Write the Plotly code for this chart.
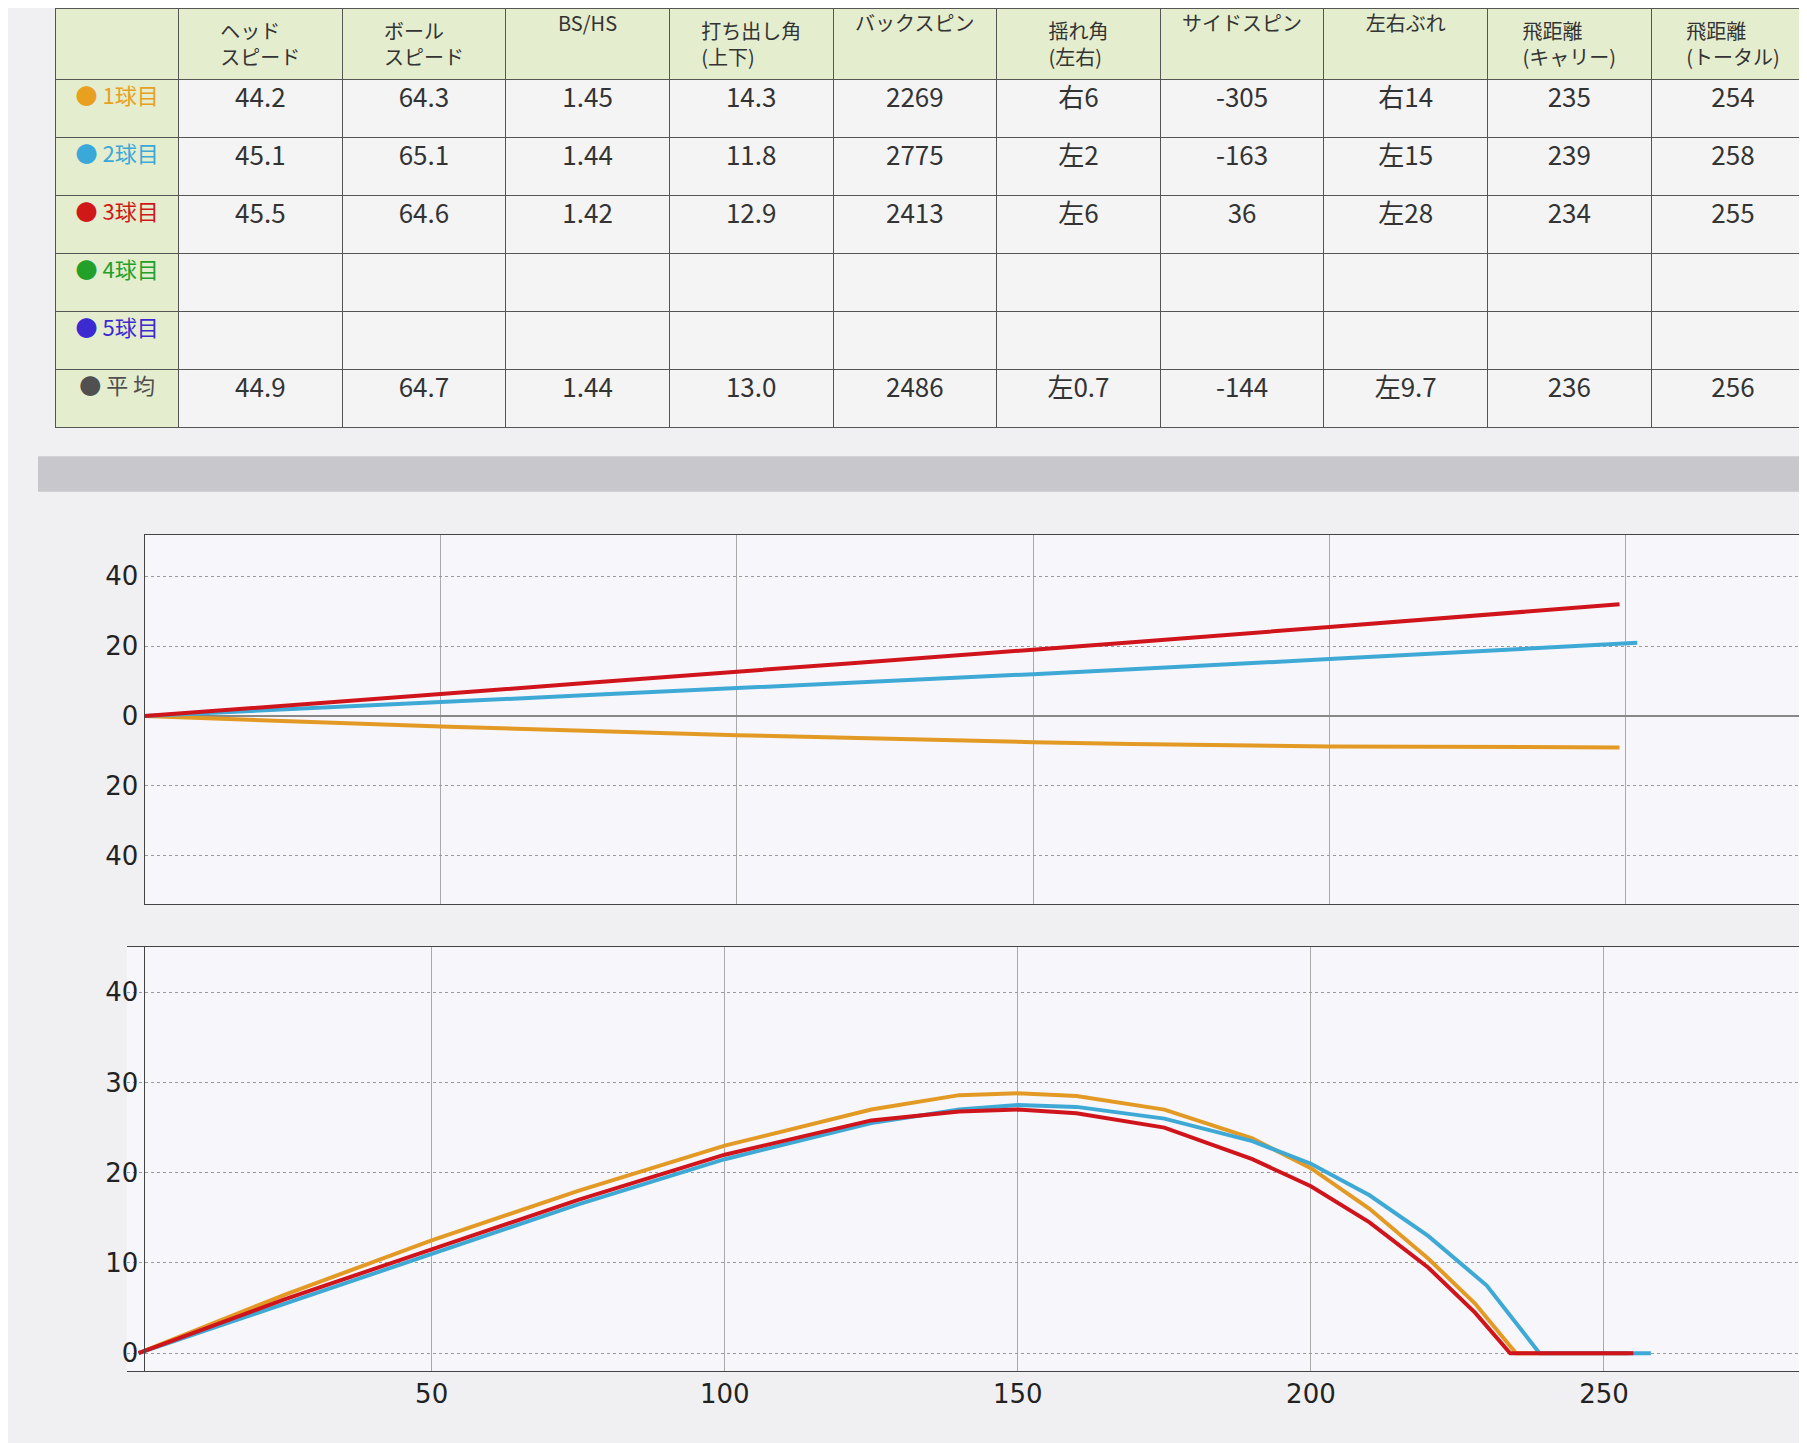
import plotly.graph_objects as go

headers = ["", "ヘッド<br>スピード", "ボール<br>スピード", "BS/HS", "打ち出し角<br>(上下)", "バックスピン",
           "揺れ角<br>(左右)", "サイドスピン", "左右ぶれ", "飛距離<br>(キャリー)", "飛距離<br>(トータル)"]
row_labels = ["1球目", "2球目", "3球目", "4球目", "5球目", "平 均"]
row_colors = ["#e8a020", "#3aa8d8", "#d01818", "#22a02a", "#3a2ad0", "#505050"]
head_speed = ["44.2", "45.1", "45.5", "", "", "44.9"]
ball_speed = ["64.3", "65.1", "64.6", "", "", "64.7"]
bs_hs = ["1.45", "1.44", "1.42", "", "", "1.44"]
launch = ["14.3", "11.8", "12.9", "", "", "13.0"]
backspin = ["2269", "2775", "2413", "", "", "2486"]
swing = ["右6", "左2", "左6", "", "", "左0.7"]
sidespin = ["-305", "-163", "36", "", "", "-144"]
lateral = ["右14", "左15", "左28", "", "", "左9.7"]
carry = ["235", "239", "234", "", "", "236"]
total = ["254", "258", "255", "", "", "256"]

# top view (lateral)
top_x1 = [0, 50, 100, 150, 200, 249]
top_y1 = [0, -3, -5.5, -7.5, -8.7, -9]
top_x2 = [0, 50, 100, 150, 200, 252]
top_y2 = [0, 4, 8, 12, 16.3, 21]
top_x3 = [0, 50, 100, 150, 200, 249]
top_y3 = [0, 6.3, 12.7, 19, 25.5, 32]

# side view (height)
side_x1 = [0, 25, 50, 75, 100, 125, 140, 150, 160, 175, 190, 200, 210, 220, 228, 235, 254]
side_y1 = [0, 6.5, 12.5, 18, 23, 27, 28.6, 28.8, 28.5, 27, 23.8, 20.5, 16, 10.5, 5.5, 0, 0]
side_x2 = [0, 25, 50, 75, 100, 125, 140, 150, 160, 175, 190, 200, 210, 220, 230, 239, 258]
side_y2 = [0, 5.5, 11, 16.5, 21.5, 25.5, 27, 27.5, 27.3, 26, 23.5, 21, 17.5, 13, 7.5, 0, 0]
side_x3 = [0, 25, 50, 75, 100, 125, 140, 150, 160, 175, 190, 200, 210, 220, 228, 234, 255]
side_y3 = [0, 6, 11.5, 17, 22, 25.8, 26.8, 27, 26.6, 25, 21.5, 18.5, 14.5, 9.5, 4.5, 0, 0]

labels = [f"● {t}" for t in row_labels]
fig = go.Figure()
fig.add_trace(go.Table(
    domain=dict(x=[0.01, 1], y=[0.70, 1]),
    columnwidth=[0.75] + [1] * 10,
    header=dict(values=headers, fill_color="#e4edce", line_color="#555",
                font=dict(size=20, color="#333", family="Noto Sans CJK JP"), height=64, align="center"),
    cells=dict(values=[labels, head_speed, ball_speed, bs_hs, launch, backspin, swing, sidespin, lateral, carry, total],
               fill_color=["#e4edce"] + ["#f4f4f4"] * 10, line_color="#555",
               font=dict(size=[22] + [26] * 10,
                         color=[row_colors] + ["#333"] * 10, family="Noto Sans CJK JP"),
               height=58, align="center"),
))

cols = ["#e39a25", "#3fa9d6", "#d0141c"]
for x, y, c in [(top_x1, top_y1, cols[0]), (top_x2, top_y2, cols[1]), (top_x3, top_y3, cols[2])]:
    fig.add_trace(go.Scatter(x=x, y=y, mode="lines", line=dict(color=c, width=4, shape="spline"),
                             xaxis="x", yaxis="y", showlegend=False))
for x, y, c in [(side_x1, side_y1, cols[0]), (side_x2, side_y2, cols[1]), (side_x3, side_y3, cols[2])]:
    fig.add_trace(go.Scatter(x=x, y=y, mode="lines", line=dict(color=c, width=4, shape="linear"),
                             xaxis="x2", yaxis="y2", showlegend=False))

tick_font = dict(size=26, color="#222", family="DejaVu Sans")
common_x = dict(showgrid=True, gridcolor="#aaa", tickvals=[50, 100, 150, 200, 250],
                showline=True, linecolor="#444", mirror=True, zeroline=False, tickfont=tick_font)
fig.update_layout(
    width=1807, height=1443, paper_bgcolor="#f0f0f2", plot_bgcolor="#f7f6fa",
    margin=dict(l=30, r=0, t=0, b=20),
    xaxis=dict(domain=[0.06, 1], anchor="y", range=[0, 282], showticklabels=False, **common_x),
    yaxis=dict(domain=[0.37, 0.63], range=[-54, 52], tickvals=[-40, -20, 0, 20, 40],
               ticktext=["40", "20", "0", "20", "40"], gridcolor="#999", griddash="dot",
               zeroline=True, zerolinecolor="#888", zerolinewidth=2, showline=True, linecolor="#444",
               mirror=True, tickfont=tick_font),
    xaxis2=dict(domain=[0.05, 1], anchor="y2", range=[-2, 286], **common_x),
    yaxis2=dict(domain=[0.042, 0.34], range=[-2, 45], tickvals=[0, 10, 20, 30, 40],
                gridcolor="#999", griddash="dot", zeroline=False, showline=True, linecolor="#444",
                mirror=True, tickfont=tick_font),
    shapes=[dict(type="rect", xref="paper", yref="paper", x0=0, x1=1, y0=0.66, y1=0.685,
                 fillcolor="#c8c8cc", line_width=0, layer="below")],
)
fig.write_html("out.html")
